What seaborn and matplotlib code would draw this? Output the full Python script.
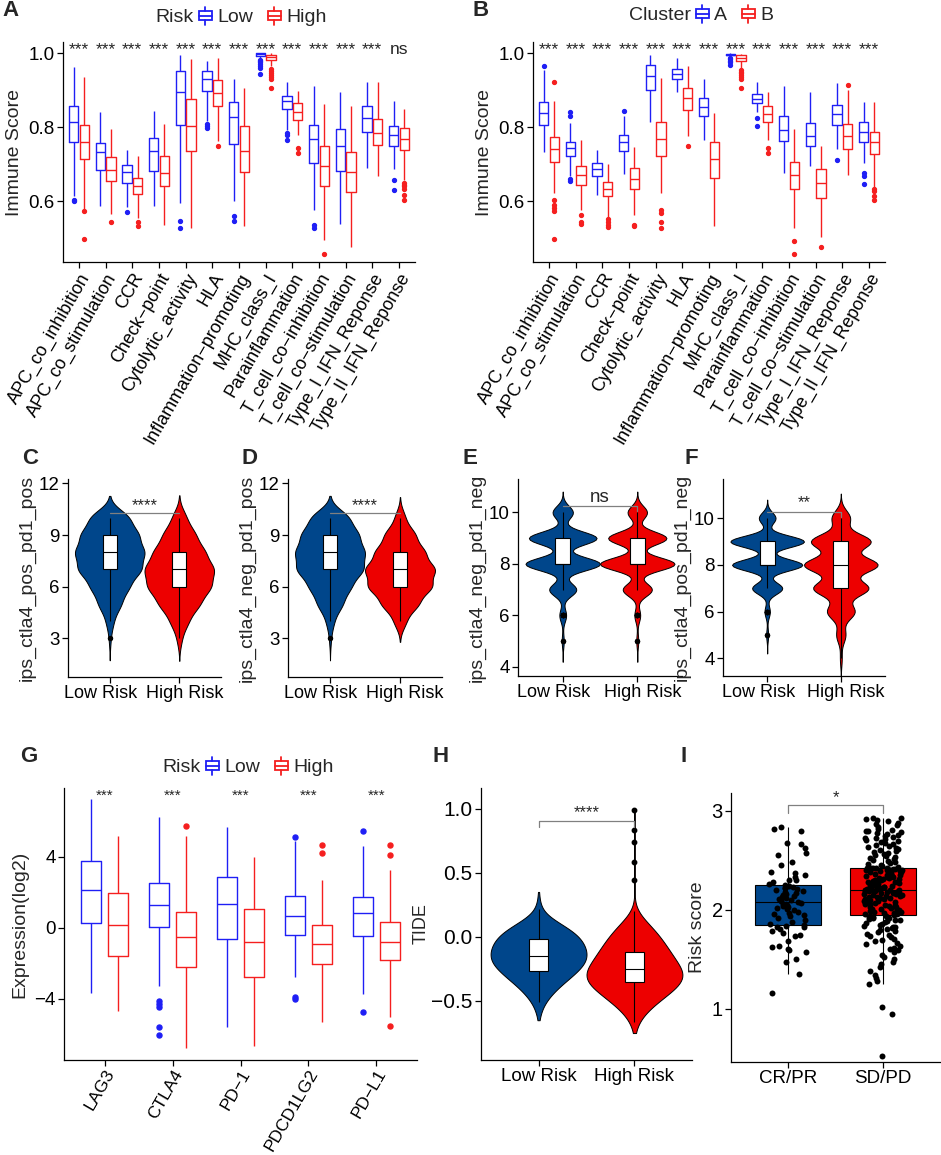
import numpy as np
import pandas as pd
import seaborn as sns
import matplotlib.pyplot as plt
from matplotlib.patches import Patch, Rectangle
from matplotlib.lines import Line2D
from matplotlib.legend_handler import HandlerBase
from matplotlib.transforms import ScaledTranslation

sns.set_theme(style='ticks')
plt.rcParams['font.family'] = ['Liberation Sans', 'DejaVu Sans']

BLUE = '#1f1ff5'
RED = '#f51f1f'
NAVY = '#00468B'
CRIMSON = '#ED0000'
GREY = '#808080'

# ---------------- A / B : immune signature scores (box stats: lo, q1, med, q3, hi)
immune_cats = ['APC_co_inhibition', 'APC_co_stimulation', 'CCR', 'Check\u2212point',
               'Cytolytic_activity', 'HLA', 'Inflammation\u2212promoting', 'MHC_class_I',
               'Parainflammation', 'T_cell_co\u2212inhibition', 'T_cell_co\u2212stimulation',
               'Type_I_IFN_Reponse', 'Type_II_IFN_Reponse']

a_low_box = [(0.612, 0.760, 0.814, 0.857, 0.963), (0.588, 0.685, 0.732, 0.757, 0.840),
             (0.585, 0.649, 0.678, 0.699, 0.739), (0.586, 0.683, 0.737, 0.771, 0.845),
             (0.595, 0.806, 0.896, 0.951, 0.996), (0.818, 0.897, 0.931, 0.951, 0.978),
             (0.602, 0.755, 0.827, 0.868, 0.930), (0.988, 0.993, 0.997, 0.999, 1.000),
             (0.793, 0.848, 0.870, 0.885, 0.921), (0.577, 0.704, 0.767, 0.805, 0.912),
             (0.539, 0.682, 0.749, 0.796, 0.895), (0.690, 0.786, 0.825, 0.856, 0.921),
             (0.688, 0.749, 0.778, 0.802, 0.872)]
a_low_out = [[0.604, 0.600], [], [0.570], [], [0.546, 0.528], [0.808, 0.802, 0.797],
             [0.561, 0.548], [0.982, 0.978, 0.975, 0.970, 0.965, 0.961, 0.943],
             [0.784, 0.778, 0.766], [0.535, 0.528], [], [], [0.658, 0.631]]
a_high_box = [(0.580, 0.715, 0.760, 0.805, 0.935), (0.566, 0.655, 0.684, 0.719, 0.795),
              (0.554, 0.619, 0.642, 0.664, 0.721), (0.535, 0.641, 0.676, 0.721, 0.809),
              (0.527, 0.735, 0.804, 0.876, 0.984), (0.764, 0.857, 0.893, 0.927, 0.987),
              (0.532, 0.680, 0.737, 0.804, 0.906), (0.966, 0.981, 0.990, 0.996, 0.999),
              (0.778, 0.820, 0.842, 0.865, 0.897), (0.496, 0.641, 0.695, 0.748, 0.863),
              (0.476, 0.625, 0.679, 0.733, 0.856), (0.669, 0.751, 0.784, 0.821, 0.921),
              (0.657, 0.739, 0.769, 0.797, 0.849)]
a_high_out = [[0.574, 0.499], [0.543], [0.543, 0.532], [], [], [0.748], [],
              [0.957, 0.951, 0.946, 0.941, 0.936, 0.931, 0.906], [0.744, 0.730],
              [0.458], [], [], [0.650, 0.645, 0.640, 0.634, 0.617, 0.603]]
a_sig = ['***', '***', '***', '***', '***', '***', '***', '***', '***', '***', '***', '***', 'ns']

b_a_box = [(0.732, 0.807, 0.838, 0.868, 0.955), (0.667, 0.723, 0.744, 0.760, 0.811),
           (0.617, 0.667, 0.688, 0.703, 0.739), (0.674, 0.737, 0.759, 0.780, 0.829),
           (0.814, 0.901, 0.937, 0.967, 0.995), (0.894, 0.930, 0.944, 0.957, 0.986),
           (0.766, 0.829, 0.855, 0.879, 0.930), (0.991, 0.994, 0.996, 0.998, 1.000),
           (0.842, 0.865, 0.877, 0.890, 0.921), (0.676, 0.764, 0.793, 0.829, 0.912),
           (0.695, 0.748, 0.777, 0.811, 0.894), (0.741, 0.807, 0.835, 0.860, 0.919),
           (0.703, 0.759, 0.786, 0.814, 0.869)]
b_a_out = [[0.964], [0.660, 0.655, 0.829, 0.842], [], [0.845], [], [], [],
           [0.987, 0.984, 0.980, 0.975, 0.969], [0.826, 0.802], [], [], [0.712],
           [0.675, 0.667, 0.646]]
b_b_box = [(0.621, 0.706, 0.741, 0.774, 0.871), (0.577, 0.644, 0.672, 0.695, 0.766),
           (0.558, 0.613, 0.634, 0.651, 0.701), (0.562, 0.633, 0.660, 0.691, 0.746),
           (0.621, 0.721, 0.768, 0.815, 0.932), (0.775, 0.847, 0.879, 0.907, 0.964),
           (0.532, 0.662, 0.715, 0.761, 0.838), (0.968, 0.980, 0.988, 0.994, 0.997),
           (0.766, 0.814, 0.836, 0.858, 0.896), (0.529, 0.633, 0.671, 0.706, 0.795),
           (0.504, 0.608, 0.649, 0.688, 0.748), (0.670, 0.742, 0.775, 0.808, 0.901),
           (0.639, 0.728, 0.761, 0.788, 0.869)]
b_b_out = [[0.921, 0.603, 0.589, 0.583, 0.574, 0.497], [0.562, 0.544, 0.538],
           [0.553, 0.545, 0.537, 0.530], [0.537, 0.533], [0.576, 0.569, 0.544, 0.529],
           [0.748], [], [0.961, 0.955, 0.950, 0.945, 0.940, 0.935, 0.930, 0.907],
           [0.743, 0.730], [0.493, 0.457], [0.477], [0.914], [0.634, 0.627, 0.615, 0.603]]
b_sig = ['***'] * 13

# ---------------- C-F : IPS scores (integer score -> count)
risk_groups = ['Low Risk', 'High Risk']
c_scores = [3, 4, 5, 6, 7, 8, 9, 10]
c_low_counts = [2, 8, 24, 40, 66, 72, 60, 42]
c_high_counts = [5, 18, 40, 62, 68, 50, 32, 14]
d_low_scores = [3, 4, 5, 6, 7, 8, 9, 10]
d_low_counts = [2, 8, 26, 42, 68, 70, 58, 40]
d_high_scores = [4, 5, 6, 7, 8, 9, 10]
d_high_counts = [12, 36, 62, 68, 48, 30, 10]
e_scores = [5, 6, 7, 8, 9, 10]
e_low_counts = [3, 10, 40, 110, 100, 30]
e_high_counts = [3, 9, 45, 115, 90, 30]
f_low_scores = [5, 6, 7, 8, 9, 10]
f_low_counts = [3, 8, 45, 105, 110, 25]
f_high_scores = [4, 5, 6, 7, 8, 9, 10]
f_high_counts = [2, 10, 30, 60, 80, 65, 20]

# ---------------- G : checkpoint expression
genes = ['LAG3', 'CTLA4', 'PD\u22121', 'PDCD1LG2', 'PD\u2212L1']
g_low_box = [(-3.65, 0.245, 2.13, 3.77, 7.25), (-3.28, 0.02, 1.28, 2.54, 6.23),
             (-5.59, -0.62, 1.34, 2.84, 5.65), (-2.77, -0.41, 0.66, 1.79, 4.90),
             (-3.71, -0.45, 0.85, 1.75, 4.61)]
g_low_out = [[], [-4.14, -4.27, -4.46, -5.59, -6.03], [], [5.10, -3.90, -4.00], [5.42, -4.75]]
g_high_box = [(-4.69, -1.58, 0.17, 1.94, 5.14), (-6.76, -2.24, -0.51, 0.90, 5.18),
              (-6.67, -2.77, -0.79, 1.05, 4.01), (-5.31, -2.07, -0.89, 0.17, 2.69),
              (-5.03, -1.83, -0.83, 0.30, 3.26)]
g_high_out = [[], [5.74], [], [4.67, 4.20], [4.67, 4.07, -5.56]]
g_sig = ['***'] * 5

# ---------------- H : TIDE (binned distribution + box stats)
h_low_bins = [-0.65, -0.60, -0.55, -0.50, -0.45, -0.40, -0.35, -0.30, -0.25, -0.20, -0.15,
              -0.10, -0.05, 0.00, 0.05, 0.10, 0.15, 0.20, 0.25, 0.30, 0.35]
h_low_counts = [1, 3, 6, 12, 20, 30, 42, 55, 66, 76, 78, 76, 72, 66, 54, 36, 16, 5, 3, 1, 1]
h_high_bins = [-0.75, -0.70, -0.65, -0.60, -0.55, -0.50, -0.45, -0.40, -0.35, -0.30, -0.25,
               -0.20, -0.15, -0.10, -0.05, 0.00, 0.05, 0.10, 0.15, 0.20]
h_high_counts = [1, 3, 7, 14, 24, 36, 48, 62, 72, 76, 70, 62, 56, 50, 44, 38, 30, 22, 10, 3]
h_low_box = (-0.51, -0.265, -0.15, -0.02, 0.22)
h_high_box = (-0.66, -0.35, -0.25, -0.12, 0.20)
h_high_out = [0.44, 0.58, 0.74, 0.83, 0.99]

# ---------------- I : risk score by response
resp_groups = ['CR/PR', 'SD/PD']
i_crpr = [1.16, 1.35, 1.47, 1.50, 1.57, 1.59, 1.60, 1.62, 1.63, 1.68, 1.73, 1.74, 1.76,
          1.78, 1.80, 1.82, 1.83, 1.84,
          1.85, 1.86, 1.88, 1.90, 1.92, 1.94, 1.95, 1.96, 1.97, 1.98, 2.00, 2.01, 2.02,
          2.03, 2.04, 2.05, 2.06, 2.07, 2.08,
          2.09, 2.10, 2.11, 2.12, 2.13, 2.14, 2.15, 2.16, 2.17, 2.18, 2.19, 2.20, 2.21,
          2.22, 2.22, 2.23, 2.24, 2.25,
          2.26, 2.28, 2.30, 2.30, 2.33, 2.35, 2.37, 2.38, 2.45, 2.48, 2.55, 2.57, 2.62,
          2.66, 2.67, 2.80, 2.82, 2.84]
i_sdpd = [0.52, 0.95, 1.02, 1.25, 1.28, 1.31, 1.34, 1.38, 1.42, 1.45, 1.47, 1.50, 1.52,
          1.54, 1.57, 1.59, 1.60, 1.61, 1.63, 1.65, 1.66, 1.68, 1.69, 1.70, 1.72, 1.73,
          1.74, 1.75, 1.77, 1.78, 1.79, 1.80, 1.81, 1.82, 1.83, 1.84, 1.85, 1.86, 1.87,
          1.88, 1.89, 1.90, 1.90, 1.91, 1.92, 1.92, 1.93, 1.93, 1.94, 1.94, 1.95,
          1.96, 1.96, 1.97, 1.97, 1.98, 1.98, 1.99, 2.00, 2.00, 2.01, 2.01, 2.02, 2.03,
          2.03, 2.04, 2.05, 2.05, 2.06, 2.06, 2.07, 2.08, 2.08, 2.09, 2.09, 2.10, 2.10,
          2.11, 2.11, 2.12, 2.12, 2.13, 2.13, 2.14, 2.14, 2.15, 2.15, 2.16, 2.16, 2.17,
          2.17, 2.17, 2.18, 2.18, 2.18, 2.19, 2.19, 2.19, 2.19, 2.20, 2.20,
          2.20, 2.21, 2.21, 2.22, 2.22, 2.23, 2.23, 2.24, 2.24, 2.25, 2.25, 2.26, 2.26,
          2.27, 2.27, 2.28, 2.28, 2.29, 2.29, 2.30, 2.30, 2.31, 2.31, 2.32, 2.32, 2.33,
          2.33, 2.34, 2.34, 2.35, 2.35, 2.36, 2.36, 2.37, 2.37, 2.38, 2.38, 2.39, 2.39,
          2.40, 2.40, 2.40, 2.41, 2.41, 2.41, 2.42, 2.42, 2.42, 2.42, 2.42,
          2.43, 2.44, 2.45, 2.46, 2.47, 2.48, 2.49, 2.50, 2.51, 2.52, 2.53, 2.54, 2.55,
          2.56, 2.57, 2.58, 2.59, 2.60, 2.61, 2.62, 2.63, 2.64, 2.65, 2.66, 2.67, 2.68,
          2.69, 2.70, 2.71, 2.72, 2.73, 2.74, 2.75, 2.76, 2.77, 2.78, 2.79, 2.80, 2.80,
          2.81, 2.82, 2.84, 2.86, 2.87, 2.88, 2.90, 2.91, 2.92, 2.93, 2.93]


def box_sample(stats, out):
    """Build a sample whose quartiles / whiskers / outliers equal the read box stats."""
    lo, q1, med, q3, hi = stats
    iqr = q3 - q1
    lo = max(lo, q1 - 1.5 * iqr + 1e-6)
    hi = min(hi, q3 + 1.5 * iqr - 1e-6)
    low = sorted(o for o in out if o < q1)
    high = sorted(o for o in out if o > q3)
    m = max(len(low), len(high)) + 2
    return (low + [lo] * (m - len(low)) + [q1] * m + [med] * m + [q3]
            + [hi] * (m - len(high)) + high)


def grouped_frame(cats, groups, boxes, outs):
    rows = []
    for g, bx, ot in zip(groups, boxes, outs):
        for c, st, o in zip(cats, bx, ot):
            rows += [(c, g, v) for v in box_sample(st, o)]
    return pd.DataFrame(rows, columns=['cat', 'grp', 'val'])


def counts_frame(groups, scores, counts):
    rows = []
    for g, s, n in zip(groups, scores, counts):
        rows += [(g, v) for v in np.repeat(s, n)]
    return pd.DataFrame(rows, columns=['grp', 'val'])


W, H = 941, 1155
fig = plt.figure(figsize=(W / 100, H / 100), dpi=100)


def panel(x0, y0, x1, y1):
    return fig.add_axes([x0 / W, 1 - y1 / H, (x1 - x0) / W, (y1 - y0) / H])


def style(ax, fs):
    sns.despine(ax=ax)
    for s in ['left', 'bottom']:
        ax.spines[s].set_color('black')
        ax.spines[s].set_linewidth(0.9)
    ax.tick_params(direction='out', length=4, width=0.9, color='black',
                   labelsize=fs, labelcolor='black', pad=2)
    ax.set_xlabel('')


def shift_xlabels(ax, shifts):
    ax.set_xticks(range(len(shifts)))
    for lbl, dx in zip(ax.get_xticklabels(), shifts):
        lbl.set_transform(lbl.get_transform() + ScaledTranslation(dx / 100, 0, fig.dpi_scale_trans))


def fill_fliers(ax):
    for ln in ax.lines:
        if ln.get_marker() not in (None, 'None', '', ' '):
            ln.set_markerfacecolor(ln.get_markeredgecolor())


class BoxKey(HandlerBase):
    # little box-and-whisker glyph like the ggplot key
    def create_artists(self, legend, orig, xd, yd, w, h, fontsize, trans):
        c = orig.get_edgecolor()
        x0, y0 = -xd, -yd
        xc = x0 + w / 2
        box = Rectangle((x0 + 0.05 * w, y0 + 0.22 * h), 0.9 * w, 0.56 * h,
                        facecolor='white', edgecolor=c, lw=1.3, transform=trans)
        med = Line2D([x0 + 0.05 * w, x0 + 0.95 * w], [y0 + 0.5 * h] * 2, color=c, lw=1.3, transform=trans)
        wl = Line2D([xc, xc], [y0 - 0.05 * h, y0 + 0.22 * h], color=c, lw=1.3, transform=trans)
        wh = Line2D([xc, xc], [y0 + 0.78 * h, y0 + 1.05 * h], color=c, lw=1.3, transform=trans)
        return [box, med, wl, wh]


def legend_row(title, labels, colors, x, y):
    fig.text(x / W, 1 - y / H, title, ha='right', va='center', fontsize=14)
    handles = [Patch(facecolor='white', edgecolor=c) for c in colors]
    fig.legend(handles, labels, loc='center left', bbox_to_anchor=(x / W, 1 - y / H),
               ncol=2, frameon=False, fontsize=14, handlelength=0.75, handleheight=0.9,
               handletextpad=0.25, columnspacing=0.7, borderaxespad=0, borderpad=0.2,
               handler_map={Patch: BoxKey()})


def bracket(ax, y, tl, tr, label, ty, fs):
    ax.plot([0, 0, 1, 1], [y - tl, y, y, y - tr], color=GREY, lw=0.9)
    ax.text(0.5, ty, label, ha='center', va='baseline', fontsize=fs)


def grouped_boxes(ax, df, cats, groups, colors, gap, fsz):
    sns.boxplot(data=df, x='cat', y='val', hue='grp', order=cats, hue_order=groups,
                palette=colors, fill=False, width=0.8, gap=gap, linewidth=1.0,
                fliersize=fsz, capprops={'visible': False}, legend=False, ax=ax)
    fill_fliers(ax)


# ---- A
axA = panel(63, 42, 415, 262)
dfA = grouped_frame(immune_cats, ['Low', 'High'], [a_low_box, a_high_box], [a_low_out, a_high_out])
grouped_boxes(axA, dfA, immune_cats, ['Low', 'High'], [BLUE, RED], 0.15, 2.8)
style(axA, 13.5)
axA.set_xlim(-0.6, 12.6)
axA.set_ylim(0.436, 1.03)
axA.set_yticks([0.6, 0.8, 1.0])
axA.set_ylabel('Immune Score', fontsize=14)
axA.set_xticks(range(len(immune_cats)))
axA.set_xticklabels(immune_cats, rotation=60, ha='right', va='top', rotation_mode='anchor', fontsize=13)
for i, s in enumerate(a_sig):
    axA.text(i, 0.998, s, ha='center', va='baseline', fontsize=12.5)
legend_row('Risk', ['Low', 'High'], [BLUE, RED], 194, 17)

# ---- B
axB = panel(533, 42, 885, 262)
dfB = grouped_frame(immune_cats, ['A', 'B'], [b_a_box, b_b_box], [b_a_out, b_b_out])
grouped_boxes(axB, dfB, immune_cats, ['A', 'B'], [BLUE, RED], 0.15, 2.8)
style(axB, 13.5)
axB.set_xlim(-0.6, 12.6)
axB.set_ylim(0.436, 1.03)
axB.set_yticks([0.6, 0.8, 1.0])
axB.set_ylabel('Immune Score', fontsize=14)
axB.set_xticks(range(len(immune_cats)))
axB.set_xticklabels(immune_cats, rotation=60, ha='right', va='top', rotation_mode='anchor', fontsize=13)
for i, s in enumerate(b_sig):
    axB.text(i, 0.998, s, ha='center', va='baseline', fontsize=12.5)
legend_row('Cluster', ['A', 'B'], [BLUE, RED], 691, 15)


# ---- C-F violins
def ips_panel(box, low_s, low_c, high_s, high_c, ylabel, ylim, yticks, bw, cut, br):
    ax = panel(*box)
    df = counts_frame(risk_groups, [low_s, high_s], [low_c, high_c])
    sns.violinplot(data=df, x='grp', y='val', hue='grp', order=risk_groups, hue_order=risk_groups,
                   palette=[NAVY, CRIMSON], saturation=1, inner=None, cut=cut, bw_adjust=bw,
                   density_norm='width', width=1.0, linewidth=0.7, linecolor='black',
                   legend=False, ax=ax)
    sns.boxplot(data=df, x='grp', y='val', order=risk_groups, width=0.2, color='white',
                linecolor='black', linewidth=0.8, fliersize=2.8,
                capprops={'visible': False}, ax=ax)
    fill_fliers(ax)
    style(ax, 13.5)
    ax.set_xlim(-0.6, 1.6)
    ax.set_ylim(*ylim)
    ax.set_yticks(yticks)
    ax.set_ylabel(ylabel, fontsize=14, labelpad=2)
    ax.tick_params(axis='x', labelsize=13)
    shift_xlabels(ax, [-9, 5])
    bracket(ax, *br)
    return ax


ips_panel((68, 479, 221, 677), c_scores, c_low_counts, c_scores, c_high_counts,
          'ips_ctla4_pos_pd1_pos', (0.76, 12.25), [3, 6, 9, 12], 1.0, 2.5,
          (10.3, 0, 0, '****', 10.45, 12))
ips_panel((288, 479, 442, 677), d_low_scores, d_low_counts, d_high_scores, d_high_counts,
          'ips_ctla4_neg_pd1_pos', (0.76, 12.25), [3, 6, 9, 12], 1.0, 2.5,
          (10.3, 0, 0, '****', 10.45, 12))
ips_panel((518, 479, 682, 676), e_scores, e_low_counts, e_scores, e_high_counts,
          'ips_ctla4_neg_pd1_neg', (3.64, 11.3), [4, 6, 8, 10], 0.78, 3.2,
          (10.26, 0, 0.2, 'ns', 10.4, 13.5))
ips_panel((723, 479, 885, 676), f_low_scores, f_low_counts, f_high_scores, f_high_counts,
          'ips_ctla4_pos_pd1_neg', (3.25, 11.67), [4, 6, 8, 10], 0.78, 3.2,
          (10.28, 0, 0.25, '**', 10.45, 12))

# ---- G
axG = panel(64, 788, 417, 1060)
dfG = grouped_frame(genes, ['Low', 'High'], [g_low_box, g_high_box], [g_low_out, g_high_out])
grouped_boxes(axG, dfG, genes, ['Low', 'High'], [BLUE, RED], 0.25, 3.6)
style(axG, 13.5)
axG.set_xlim(-0.6, 4.6)
axG.set_ylim(-7.45, 7.87)
axG.set_yticks([-4, 0, 4])
axG.set_ylabel('Expression(log2)', fontsize=14)
axG.set_xticks(range(len(genes)))
axG.set_xticklabels(genes, rotation=60, ha='right', va='top', rotation_mode='anchor', fontsize=12.5)
axG.tick_params(axis='x', pad=1)
for i, s in enumerate(g_sig):
    axG.text(i, 7.2, s, ha='center', va='baseline', fontsize=11)
legend_row('Risk', ['Low', 'High'], [BLUE, RED], 201, 767)

# ---- H
axH = panel(481, 788, 692, 1060)
dfH = pd.concat([counts_frame(risk_groups, [h_low_bins, h_high_bins], [h_low_counts, h_high_counts]),
                 pd.DataFrame({'grp': 'High Risk', 'val': h_high_out})], ignore_index=True)
sns.violinplot(data=dfH, x='grp', y='val', hue='grp', order=risk_groups, hue_order=risk_groups,
               palette=[NAVY, CRIMSON], saturation=1, inner=None, cut=0, bw_adjust=1.3,
               density_norm='width', width=1.0, linewidth=0.7, linecolor='black',
               legend=False, ax=axH)
dfHb = pd.DataFrame([('Low Risk', v) for v in box_sample(h_low_box, [])]
                    + [('High Risk', v) for v in box_sample(h_high_box, h_high_out)],
                    columns=['grp', 'val'])
sns.boxplot(data=dfHb, x='grp', y='val', order=risk_groups, width=0.2, color='white',
            linecolor='black', linewidth=0.8, fliersize=3.2, capprops={'visible': False}, ax=axH)
fill_fliers(axH)
style(axH, 15)
axH.set_xlim(-0.6, 1.6)
axH.set_ylim(-0.96, 1.16)
axH.set_yticks([-0.5, 0.0, 0.5, 1.0])
axH.set_ylabel('TIDE', fontsize=13, labelpad=1)
axH.tick_params(axis='x', labelsize=13.5)
bracket(axH, 0.9, 0.045, 0.045, '****', 0.935, 12)

# ---- I
axI = panel(731, 793, 940, 1062)
dfI = pd.DataFrame({'grp': ['CR/PR'] * len(i_crpr) + ['SD/PD'] * len(i_sdpd),
                    'val': i_crpr + i_sdpd})
sns.boxplot(data=dfI, x='grp', y='val', hue='grp', order=resp_groups, hue_order=resp_groups,
            palette=[NAVY, CRIMSON], saturation=1, width=0.7, linecolor='black', linewidth=0.8,
            showfliers=False, capprops={'visible': False}, legend=False, ax=axI)
np.random.seed(7)
sns.stripplot(data=dfI, x='grp', y='val', order=resp_groups, color='black', size=4.3,
              jitter=0.2, ax=axI)
style(axI, 14.5)
axI.set_xlim(-0.6, 1.6)
axI.set_ylim(0.46, 3.18)
axI.set_yticks([1, 2, 3])
axI.set_ylabel('Risk score', fontsize=14)
axI.tick_params(axis='x', labelsize=13.5)
bracket(axI, 3.06, 0.08, 0.08, '*', 3.09, 12)

# ---- panel letters
for lab, x, y in [('A', 2, 10), ('B', 472, 10), ('C', 22, 459), ('D', 241, 459),
                  ('E', 463, 459), ('F', 684, 459), ('G', 20, 757), ('H', 432, 757),
                  ('I', 681, 757)]:
    fig.text(x / W, 1 - y / H, lab, ha='left', va='center', fontsize=16, fontweight='bold')

fig.savefig('out.png', dpi=100)
